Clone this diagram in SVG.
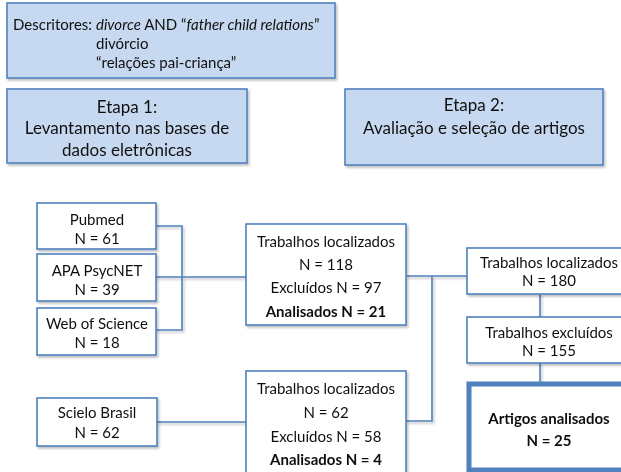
<svg xmlns="http://www.w3.org/2000/svg" width="621" height="472" viewBox="0 0 621 472">
<style>
  .t { font-family: Lato, "Open Sans", "Liberation Sans", sans-serif; font-size: 15px; fill: #111; }
  .c { text-anchor: middle; }
  .b { font-weight: bold; }
  .big { font-size: 17px; }
  .blue { fill: #c6d9f0; stroke: #4f81bd; stroke-width: 1.6; }
  .box { fill: #fff; stroke: #4f81bd; stroke-width: 1.6; }
  .thick { fill: #fff; stroke: #4f81bd; stroke-width: 5; }
  .ln { fill: none; stroke: #4f81bd; stroke-width: 1.6; }
</style>
<defs>
  <filter id="sh" x="-10%" y="-10%" width="130%" height="130%">
    <feDropShadow dx="1.5" dy="2" stdDeviation="1" flood-color="#000" flood-opacity="0.25"/>
  </filter>
</defs>
<rect width="621" height="472" fill="#fff"/>

<g id="connectors" filter="url(#sh)">
  <polyline class="ln" points="156,226 182,226 182,330 156,330"/>
  <line class="ln" x1="156" y1="277" x2="246" y2="277"/>
  <line class="ln" x1="406" y1="276" x2="467" y2="276"/>
  <polyline class="ln" points="432,276 432,421 406,421"/>
  <line class="ln" x1="157" y1="422" x2="246" y2="422"/>
  <line class="ln" x1="540" y1="294" x2="540" y2="317"/>
  <line class="ln" x1="540" y1="363" x2="540" y2="382"/>
</g>

<g id="descritores" filter="url(#sh)">
  <rect class="blue" x="7" y="3" width="328" height="75"/>
  <text class="t" x="13" y="30">Descritores: <tspan font-style="italic">divorce</tspan> AND “<tspan font-style="italic">father child relations</tspan>”</text>
  <text class="t" x="96" y="49">divórcio</text>
  <text class="t" x="96" y="68">“relações pai-criança”</text>
</g>

<g id="etapa1" filter="url(#sh)">
  <rect class="blue" x="7" y="89" width="240" height="74"/>
  <text class="t big c" x="127" y="113">Etapa 1:</text>
  <text class="t big c" x="127" y="134">Levantamento nas bases de</text>
  <text class="t big c" x="127" y="156">dados eletrônicas</text>
</g>

<g id="etapa2" filter="url(#sh)">
  <rect class="blue" x="345" y="89" width="258" height="76"/>
  <text class="t big c" x="474" y="111">Etapa 2:</text>
  <text class="t big c" x="474" y="134">Avaliação e seleção de artigos</text>
</g>

<g id="pubmed" filter="url(#sh)">
  <rect class="box" x="37" y="203" width="119" height="46"/>
  <text class="t c" x="97" y="225">Pubmed</text>
  <text class="t c" x="97" y="244">N = 61</text>
</g>

<g id="apa" filter="url(#sh)">
  <rect class="box" x="37" y="254" width="119" height="47"/>
  <text class="t c" x="97" y="276">APA PsycNET</text>
  <text class="t c" x="97" y="295">N = 39</text>
</g>

<g id="web" filter="url(#sh)">
  <rect class="box" x="37" y="308" width="119" height="47"/>
  <text class="t c" x="97" y="329">Web of Science</text>
  <text class="t c" x="97" y="348">N = 18</text>
</g>

<g id="scielo" filter="url(#sh)">
  <rect class="box" x="37" y="398" width="120" height="48"/>
  <text class="t c" x="97" y="418">Scielo Brasil</text>
  <text class="t c" x="97" y="438">N = 62</text>
</g>

<g id="mid1" filter="url(#sh)">
  <rect class="box" x="246" y="224" width="160" height="101"/>
  <text class="t c" x="326" y="247">Trabalhos localizados</text>
  <text class="t c" x="326" y="270">N = 118</text>
  <text class="t c" x="326" y="293">Excluídos N = 97</text>
  <text class="t c b" x="326" y="317">Analisados N = 21</text>
</g>

<g id="mid2" filter="url(#sh)">
  <rect class="box" x="246" y="371" width="160" height="110"/>
  <text class="t c" x="326" y="394">Trabalhos localizados</text>
  <text class="t c" x="326" y="418">N = 62</text>
  <text class="t c" x="326" y="442">Excluídos N = 58</text>
  <text class="t c b" x="326" y="465">Analisados N = 4</text>
</g>

<g id="localizados" filter="url(#sh)">
  <rect class="box" x="467" y="248" width="170" height="46"/>
  <text class="t c" x="549" y="268">Trabalhos localizados</text>
  <text class="t c" x="549" y="286">N = 180</text>
</g>

<g id="excluidos" filter="url(#sh)">
  <rect class="box" x="467" y="317" width="170" height="46"/>
  <text class="t c" x="549" y="338">Trabalhos excluídos</text>
  <text class="t c" x="549" y="356">N = 155</text>
</g>

<g id="artigos" filter="url(#sh)">
  <rect class="thick" x="469" y="384" width="170" height="86"/>
  <text class="t c b" x="549" y="424">Artigos analisados</text>
  <text class="t c b" x="549" y="446">N = 25</text>
</g>
</svg>
